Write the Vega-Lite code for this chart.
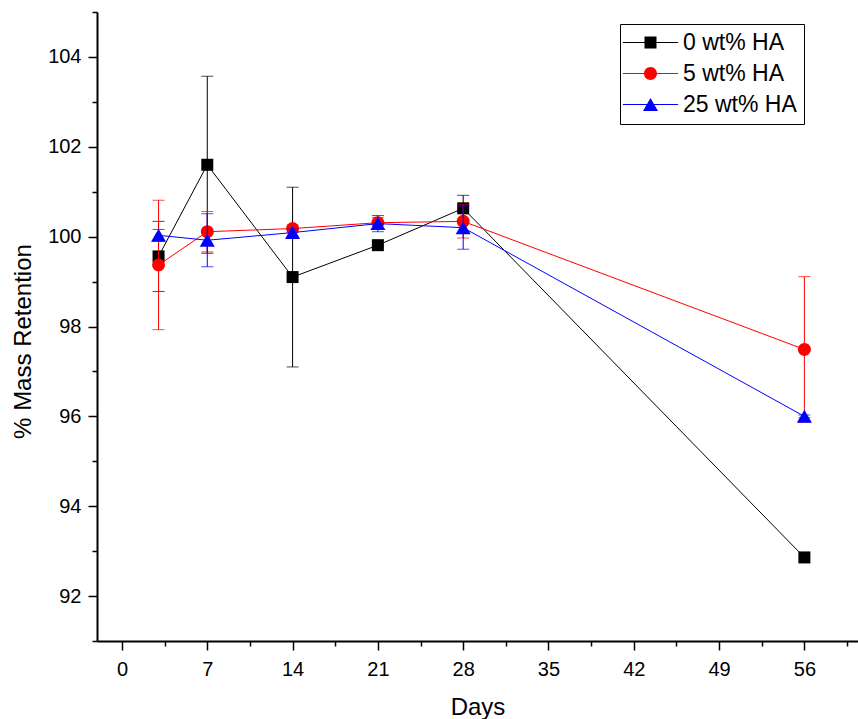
{
  "$schema": "https://vega.github.io/schema/vega-lite/v6.json",
  "width": 761,
  "height": 629,
  "autosize": {"type": "none"},
  "padding": {"left": 97, "top": 12, "right": 0, "bottom": 78},
  "background": "white",
  "config": {
    "font": "Liberation Sans",
    "view": {"stroke": null},
    "axis": {
      "domainColor": "black",
      "tickColor": "black",
      "labelColor": "black",
      "titleColor": "black",
      "grid": false,
      "domainWidth": 2,
      "tickWidth": 1.5,
      "labelFont": "Liberation Sans",
      "titleFont": "Liberation Sans",
      "titleFontWeight": "normal"
    }
  },
  "data": {
    "values": [
      {"series": "0 wt% HA", "day": 3, "mean": 99.56, "err": 0.78},
      {"series": "0 wt% HA", "day": 7, "mean": 101.6, "err": 1.97},
      {"series": "0 wt% HA", "day": 14, "mean": 99.1, "err": 2.0},
      {"series": "0 wt% HA", "day": 21, "mean": 99.81, "err": 0},
      {"series": "0 wt% HA", "day": 28, "mean": 100.63, "err": 0.29},
      {"series": "0 wt% HA", "day": 56, "mean": 92.86, "err": 0},
      {"series": "5 wt% HA", "day": 3, "mean": 99.37, "err": 1.44},
      {"series": "5 wt% HA", "day": 7, "mean": 100.11, "err": 0.45},
      {"series": "5 wt% HA", "day": 14, "mean": 100.18, "err": 0.08},
      {"series": "5 wt% HA", "day": 21, "mean": 100.31, "err": 0.12},
      {"series": "5 wt% HA", "day": 28, "mean": 100.34, "err": 0.37},
      {"series": "5 wt% HA", "day": 56, "mean": 97.49, "err": 1.62},
      {"series": "25 wt% HA", "day": 3, "mean": 100.03, "err": 0.13},
      {"series": "25 wt% HA", "day": 7, "mean": 99.92, "err": 0.59},
      {"series": "25 wt% HA", "day": 14, "mean": 100.09, "err": 0.08},
      {"series": "25 wt% HA", "day": 21, "mean": 100.29, "err": 0.18},
      {"series": "25 wt% HA", "day": 28, "mean": 100.2, "err": 0.48},
      {"series": "25 wt% HA", "day": 56, "mean": 96.0, "err": 0.03}
    ]
  },
  "layer": [
    {
      "transform": [{"filter": "datum.series == '0 wt% HA'"}],
      "mark": {"type": "line", "strokeWidth": 1, "color": "#000000"},
      "encoding": {
        "x": {"field": "day", "type": "quantitative", "scale": {"domain": [-2.05, 60.4], "nice": false, "zero": false},
          "axis": {"orient": "bottom", "values": [0, 7, 14, 21, 28, 35, 42, 49, 56], "title": "Days", "labelFontSize": 20, "titleFontSize": 24, "tickSize": 9, "labelPadding": 9, "titlePadding": 16}},
        "y": {"field": "mean", "type": "quantitative", "scale": {"domain": [91, 105], "nice": false, "zero": false},
          "axis": {"orient": "left", "values": [92, 94, 96, 98, 100, 102, 104], "title": "% Mass Retention", "labelFontSize": 20, "titleFontSize": 24, "tickSize": 9, "labelPadding": 7, "titlePadding": 12, "titleY": 329}}
      }
    },
    {
      "transform": [{"filter": "datum.series == '0 wt% HA' && datum.err > 0"}],
      "mark": {"type": "errorbar", "color": "#000000", "ticks": true, "size": 12, "thickness": 1},
      "encoding": {
        "x": {"field": "day", "type": "quantitative", "axis": null},
        "y": {"field": "mean", "type": "quantitative", "axis": null},
        "yError": {"field": "err"}
      }
    },
    {
      "transform": [{"filter": "datum.series == '0 wt% HA'"}],
      "mark": {"type": "point", "shape": "square", "filled": true, "opacity": 1, "size": 144, "color": "#000000", "strokeWidth": 0},
      "encoding": {
        "x": {"field": "day", "type": "quantitative", "axis": null},
        "y": {"field": "mean", "type": "quantitative", "axis": null}
      }
    },
    {
      "transform": [{"filter": "datum.series == '5 wt% HA'"}],
      "mark": {"type": "line", "strokeWidth": 1, "color": "#FF0000"},
      "encoding": {
        "x": {"field": "day", "type": "quantitative", "axis": null},
        "y": {"field": "mean", "type": "quantitative", "axis": null}
      }
    },
    {
      "transform": [{"filter": "datum.series == '5 wt% HA' && datum.err > 0"}],
      "mark": {"type": "errorbar", "color": "#FF0000", "ticks": true, "size": 12, "thickness": 1},
      "encoding": {
        "x": {"field": "day", "type": "quantitative", "axis": null},
        "y": {"field": "mean", "type": "quantitative", "axis": null},
        "yError": {"field": "err"}
      }
    },
    {
      "transform": [{"filter": "datum.series == '5 wt% HA'"}],
      "mark": {"type": "point", "shape": "circle", "filled": true, "opacity": 1, "size": 169, "color": "#FF0000", "strokeWidth": 0},
      "encoding": {
        "x": {"field": "day", "type": "quantitative", "axis": null},
        "y": {"field": "mean", "type": "quantitative", "axis": null}
      }
    },
    {
      "transform": [{"filter": "datum.series == '25 wt% HA'"}],
      "mark": {"type": "line", "strokeWidth": 1, "color": "#0000FF"},
      "encoding": {
        "x": {"field": "day", "type": "quantitative", "axis": null},
        "y": {"field": "mean", "type": "quantitative", "axis": null}
      }
    },
    {
      "transform": [{"filter": "datum.series == '25 wt% HA' && datum.err > 0"}],
      "mark": {"type": "errorbar", "color": "#0000FF", "ticks": true, "size": 12, "thickness": 1},
      "encoding": {
        "x": {"field": "day", "type": "quantitative", "axis": null},
        "y": {"field": "mean", "type": "quantitative", "axis": null},
        "yError": {"field": "err"}
      }
    },
    {
      "transform": [{"filter": "datum.series == '25 wt% HA'"}],
      "mark": {"type": "point", "shape": "triangle-up", "filled": true, "opacity": 1, "size": 225, "color": "#0000FF", "strokeWidth": 0},
      "encoding": {
        "x": {"field": "day", "type": "quantitative", "axis": null},
        "y": {"field": "mean", "type": "quantitative", "axis": null}
      }
    },
    {
      "mark": {"type": "point", "filled": true, "opacity": 0, "size": 144},
      "encoding": {
        "x": {"field": "day", "type": "quantitative", "axis": null},
        "y": {"field": "mean", "type": "quantitative", "axis": null},
        "color": {"field": "series", "type": "nominal", "scale": {"domain": ["0 wt% HA", "5 wt% HA", "25 wt% HA"], "range": ["#000000", "#FF0000", "#0000FF"]},
          "legend": {"orient": "none", "legendX": 523, "legendY": 12, "title": null, "labelFontSize": 23, "labelColor": "black", "labelFont": "Liberation Sans", "symbolSize": 144, "symbolStrokeWidth": 0, "symbolOpacity": 1, "symbolOffset": 12, "labelOffset": 21, "padding": 7, "rowPadding": 7, "strokeColor": "black", "fillColor": "white"}},
        "shape": {"field": "series", "type": "nominal", "scale": {"domain": ["0 wt% HA", "5 wt% HA", "25 wt% HA"], "range": [
            "M-4.6,-0.085H4.6V0.085H-4.6ZM-1,-1H1V1H-1Z",
            "M-4.6,-0.085H4.6V0.085H-4.6ZM-1.083,0A1.083,1.083,0,1,1,1.083,0A1.083,1.083,0,1,1,-1.083,0Z",
            "M-4.6,-0.085H4.6V0.085H-4.6ZM0,-1.083L1.25,1.083L-1.25,1.083Z"]},
          "legend": {"orient": "none", "legendX": 523, "legendY": 12, "title": null, "labelFontSize": 23, "labelColor": "black", "labelFont": "Liberation Sans", "symbolSize": 144, "symbolStrokeWidth": 0, "symbolOpacity": 1, "symbolOffset": 12, "labelOffset": 21, "padding": 7, "rowPadding": 7, "strokeColor": "black", "fillColor": "white"}}
      }
    },
    {
      "mark": {"type": "point", "opacity": 0},
      "encoding": {
        "x": {"field": "day", "type": "quantitative", "axis": {"orient": "bottom", "values": [3.5, 10.5, 17.5, 24.5, 31.5, 38.5, 45.5, 52.5, 59.5], "labels": false, "domain": false, "title": null, "tickSize": 5}},
        "y": {"field": "mean", "type": "quantitative", "axis": {"orient": "left", "values": [91, 93, 95, 97, 99, 101, 103, 105], "labels": false, "domain": false, "title": null, "tickSize": 5}}
      }
    }
  ],
  "resolve": {"axis": {"x": "independent", "y": "independent"}}
}
